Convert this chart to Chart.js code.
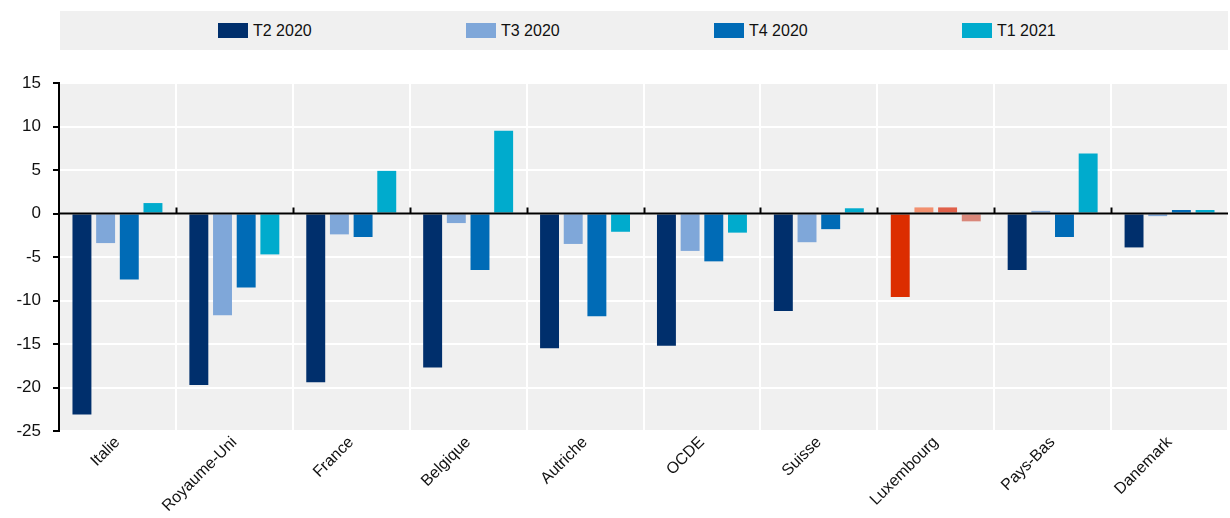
<!DOCTYPE html>
<html>
<head>
<meta charset="utf-8">
<script src="https://cdn.jsdelivr.net/npm/chart.js@4.4.1/dist/chart.umd.min.js"></script>
<style>
  html, body { margin: 0; padding: 0; background: #fff; }
  #wrap { position: relative; width: 1230px; height: 518px; }
  #legend {
    position: absolute; left: 60px; top: 11px; width: 1168px; height: 39px;
    background: #f0f0f0; display: flex; align-items: center; box-sizing: border-box;
    padding-left: 158px; font-family: "Liberation Sans", Arial, sans-serif;
    font-size: 16px; color: #111;
  }
  #legend .item { width: 248px; display: flex; align-items: center; }
  #legend .sw { width: 30px; height: 15px; margin-right: 5px; }
</style>
</head>
<body>
<div id="wrap">
  <div id="legend"></div>
  <canvas id="chart" width="1230" height="518"></canvas>
</div>
<script>
const categories = ['Italie', 'Royaume-Uni', 'France', 'Belgique', 'Autriche', 'OCDE', 'Suisse', 'Luxembourg', 'Pays-Bas', 'Danemark'];
const seriesNames = ['T2 2020', 'T3 2020', 'T4 2020', 'T1 2021'];
const t2_2020 = [-23.1, -19.7, -19.4, -17.7, -15.5, -15.2, -11.2, -9.6, -6.5, -3.9];
const t3_2020 = [-3.4, -11.7, -2.4, -1.1, -3.5, -4.3, -3.3, 0.7, 0.3, -0.3];
const t4_2020 = [-7.6, -8.5, -2.7, -6.5, -11.8, -5.5, -1.8, 0.7, -2.7, 0.4];
const t1_2021 = [1.2, -4.7, 4.9, 9.5, -2.1, -2.2, 0.6, -0.9, 6.9, 0.4];
const yTicks = [-25, -20, -15, -10, -5, 0, 5, 10, 15];

const seriesColors = ['#002f6c', '#7fa7d9', '#006bb6', '#00abcd'];
const highlightColors = ['#dc2d00', '#f2906f', '#e0604a', '#d9877a'];
const highlighted = 'Luxembourg';
const FONT = '"Liberation Sans", Arial, sans-serif';

const allSeries = [t2_2020, t3_2020, t4_2020, t1_2021];

// legend en HTML
const legendEl = document.getElementById('legend');
seriesNames.forEach((name, i) => {
  const item = document.createElement('div');
  item.className = 'item';
  item.innerHTML = '<span class="sw" style="background:' + seriesColors[i] + '"></span><span>' + name + '</span>';
  legendEl.appendChild(item);
});

const datasets = allSeries.map((data, i) => ({
  label: seriesNames[i],
  data: data,
  backgroundColor: categories.map(c => c === highlighted ? highlightColors[i] : seriesColors[i]),
  categoryPercentage: 0.81,
  barPercentage: 0.8
}));

// fond gris + petites marques sur la ligne zéro
const plotDecor = {
  id: 'plotDecor',
  beforeDraw(chart) {
    const a = chart.chartArea, ctx = chart.ctx;
    ctx.save();
    ctx.fillStyle = '#f0f0f0';
    ctx.fillRect(a.left, a.top, a.right - a.left, a.bottom - a.top);
    ctx.restore();
  },
  afterDatasetsDraw(chart) {
    const x = chart.scales.x, y = chart.scales.y, ctx = chart.ctx;
    const y0 = y.getPixelForValue(0);
    ctx.save();
    ctx.strokeStyle = '#000';
    ctx.lineWidth = 2;
    ctx.beginPath();
    ctx.moveTo(chart.chartArea.left, y0);
    ctx.lineTo(chart.chartArea.right, y0);
    for (let i = 1; i < categories.length; i++) {
      const xb = Math.round((x.getPixelForValue(i - 1) + x.getPixelForValue(i)) / 2) + 0.5;
      ctx.moveTo(xb, y0);
      ctx.lineTo(xb, y0 - 6);
    }
    ctx.stroke();
    ctx.restore();
  }
};

new Chart(document.getElementById('chart').getContext('2d'), {
  type: 'bar',
  data: { labels: categories, datasets: datasets },
  options: {
    responsive: false,
    animation: false,
    layout: { padding: { top: 83, left: 0, right: 2, bottom: 0 } },
    plugins: { legend: { display: false }, tooltip: { enabled: false } },
    scales: {
      x: {
        grid: { color: '#ffffff', lineWidth: 2, drawTicks: false },
        border: { display: false },
        ticks: {
          color: '#111', font: { family: FONT, size: 16 },
          minRotation: 45, maxRotation: 45, autoSkip: false, padding: 2
        },
        afterFit(scale) { scale.height = 87; }
      },
      y: {
        min: -25, max: 15,
        afterBuildTicks(scale) { scale.ticks = yTicks.map(v => ({ value: v })); },
        grid: {
          color: '#ffffff', lineWidth: 2, tickColor: '#000', tickLength: 6
        },
        border: { display: true, color: '#000', width: 2 },
        ticks: { color: '#111', font: { family: FONT, size: 17 }, padding: 12 },
        afterFit(scale) { scale.width = 59; }
      }
    }
  },
  plugins: [plotDecor]
});
</script>
</body>
</html>
